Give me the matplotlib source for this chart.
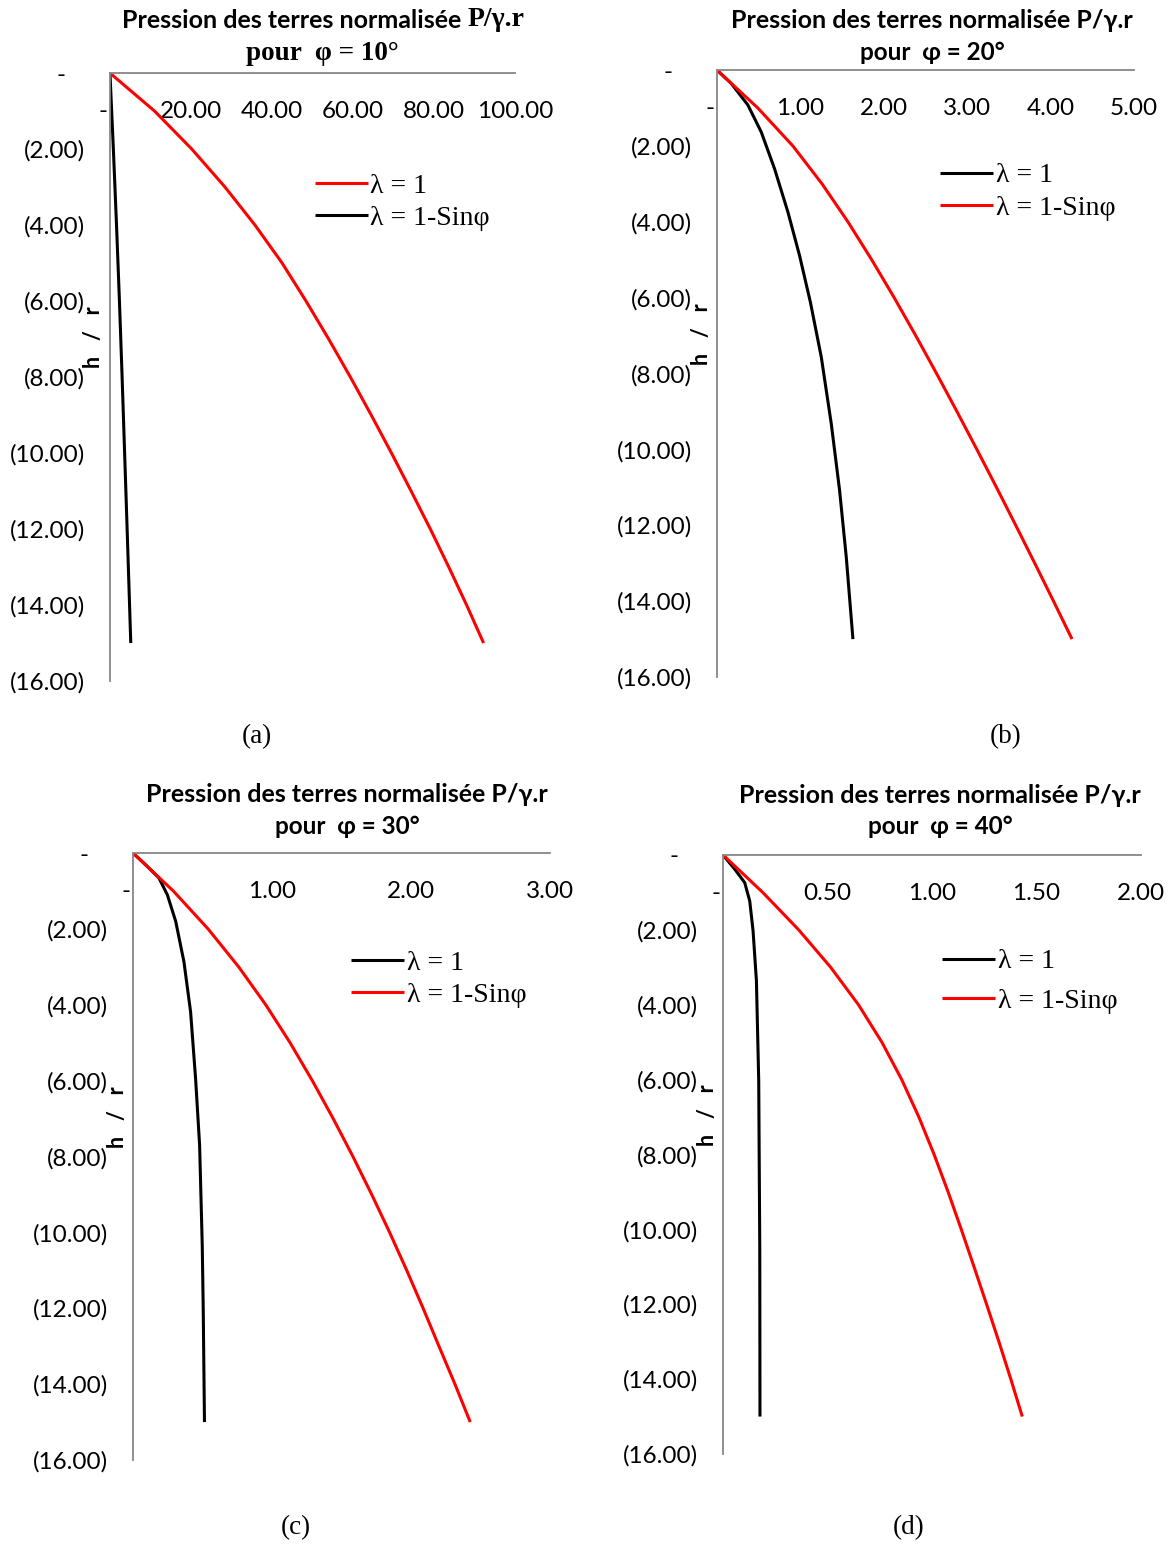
import matplotlib.pyplot as plt
from matplotlib.text import Annotation
from matplotlib.ticker import FixedLocator, FuncFormatter

# profondeur normalisee h/r (negative vers le bas) et pression P/(gamma.r)
h_unit = [0, -1, -2, -3, -4, -5, -6, -7, -8, -9, -10, -11, -12, -13, -14, -15]

# (a) phi = 10 deg
red_a = [0, 11.0, 20.2, 28.4, 35.8, 42.5, 48.4, 54.0, 59.35, 64.5, 69.5,
         74.35, 79.1, 83.65, 88.05, 92.25]
h_black_a = [0, -2, -4, -6, -8, -10, -12, -14, -15]
black_a = [0, 0.84, 1.62, 2.34, 3.0, 3.62, 4.24, 4.84, 5.14]

# (b) phi = 20 deg
h_black_b = [0, -0.35, -0.92, -1.63, -2.60, -3.74, -4.89, -6.12, -7.56, -9.32,
             -11.08, -12.84, -15]
black_b = [0, 0.17, 0.37, 0.53, 0.69, 0.85, 0.99, 1.12, 1.25, 1.37,
           1.47, 1.55, 1.63]
red_b = [0, 0.49, 0.91, 1.26, 1.57, 1.855, 2.125, 2.383, 2.633, 2.877, 3.116,
         3.351, 3.582, 3.81, 4.035, 4.257]

# (c) phi = 30 deg
h_black_c = [0, -0.31, -0.66, -1.10, -1.80, -2.86, -4.18, -5.94, -7.70, -10.34,
             -12, -14, -15]
black_c = [0, 0.091, 0.187, 0.247, 0.307, 0.366, 0.414, 0.45, 0.479, 0.498,
           0.505, 0.511, 0.514]
red_c = [0, 0.29, 0.54, 0.76, 0.955, 1.13, 1.29, 1.44, 1.582, 1.717, 1.846,
         1.969, 2.087, 2.201, 2.316, 2.426]

# (d) phi = 40 deg
h_black_d = [0, -0.38, -0.74, -1.23, -2.03, -3.36, -6.03, -10.49, -15]
black_d = [0, 0.056, 0.104, 0.128, 0.144, 0.16, 0.171, 0.176, 0.177]
red_d = [0, 0.19, 0.362, 0.515, 0.648, 0.76, 0.855, 0.937, 1.01, 1.077, 1.14,
         1.201, 1.261, 1.32, 1.377, 1.432]

y_ticks = [0, -2, -4, -6, -8, -10, -12, -14, -16]
xticks_a = [0, 20, 40, 60, 80, 100]
xticks_b = [0, 1, 2, 3, 4, 5]
xticks_c = [0, 1, 2, 3]
xticks_d = [0, 0.5, 1.0, 1.5, 2.0]

SANS = ['Lato', 'DejaVu Sans']
SERIF = ['Liberation Serif', 'DejaVu Serif']
GREY = '#868686'


def fmt_x(v, pos):
    if abs(v) < 1e-9:
        return '-  '
    return '{:.2f}'.format(v)


def fmt_y(v, pos):
    if abs(v) < 1e-9:
        return '-   '
    return '({:.2f})'.format(abs(v))


fig = plt.figure(figsize=(11.71, 15.44), dpi=100)


def panel(rect, xmax, xticks, hb, black, hr, red, red_first, leg_pos, lspace):
    ax = fig.add_axes(rect)
    ax.set_xlim(0, xmax)
    ax.set_ylim(-16, 0)
    for s in ['bottom', 'right']:
        ax.spines[s].set_visible(False)
    for s in ['top', 'left']:
        ax.spines[s].set_color(GREY)
        ax.spines[s].set_linewidth(1.3)

    lb, = ax.plot(black, hb, color='black', lw=2.2, solid_capstyle='butt',
                  solid_joinstyle='round')
    lr, = ax.plot(red, hr, color='#ff0000', lw=2.2, solid_capstyle='butt',
                  solid_joinstyle='round')

    ax.xaxis.set_major_locator(FixedLocator(xticks))
    ax.xaxis.set_major_formatter(FuncFormatter(fmt_x))
    ax.yaxis.set_major_locator(FixedLocator(y_ticks))
    ax.yaxis.set_major_formatter(FuncFormatter(fmt_y))
    ax.tick_params(axis='x', top=True, labeltop=True, bottom=False,
                   labelbottom=False, length=0, pad=-35, labelsize=17.5)
    ax.tick_params(axis='y', length=0, pad=18, labelsize=17.5)
    for t in ax.get_xticklabels() + ax.get_yticklabels():
        t.set_family(SANS)

    if red_first:
        handles = [lr, lb]
    else:
        handles = [lb, lr]
    ax.legend(handles, ['λ = 1', 'λ = 1-Sinφ'], loc='upper left',
              bbox_to_anchor=leg_pos, frameon=False, borderpad=0,
              borderaxespad=0, handlelength=1.9, handletextpad=0.1,
              labelspacing=lspace, prop={'family': SERIF, 'size': 20})

    ax.annotate('h   /   r', xy=(0, 0.565), xycoords='axes fraction',
                xytext=(-11.5, 0), textcoords='offset points', rotation=90,
                ha='center', va='center', fontsize=15.5, fontweight='bold',
                family=SANS)
    return ax


panel([0.0939, 0.5589, 0.3459, 0.3938], 100, xticks_a, h_black_a, black_a,
      h_unit, red_a, True, (0.506, 0.835), 0.25)
panel([0.6123, 0.5615, 0.3561, 0.3931], 5, xticks_b, h_black_b, black_b,
      h_unit, red_b, False, (0.535, 0.847), 0.25)
panel([0.1136, 0.0544, 0.3561, 0.3931], 3, xticks_c, h_black_c, black_c,
      h_unit, red_c, False, (0.523, 0.84), 0.25)
panel([0.6174, 0.0583, 0.357, 0.388], 2, xticks_d, h_black_d, black_d,
      h_unit, red_d, False, (0.524, 0.843), 0.5)

W, H = 1171.0, 1544.0

# titre (a): partie sans + partie serif
t1 = fig.text(122 / W, 1 - 20 / H, 'Pression des terres normalisée ',
              ha='left', va='center', fontsize=18, fontweight='bold', family=SANS)
fig.add_artist(Annotation('P/γ.r', xy=(1, 0.5), xycoords=t1, va='center',
                          ha='left', fontsize=20, fontweight='bold',
                          family=SERIF))
fig.text(322 / W, 1 - 53 / H, 'pour  φ = 10°', ha='center', va='center',
         fontsize=19.5, fontweight='bold', family=SERIF)

titles = [(932, 20, 53, '20'), (347, 794, 827, '30'), (940, 795, 827, '40')]
for cx, y1, y2, phi in titles:
    fig.text(cx / W, 1 - y1 / H, 'Pression des terres normalisée P/γ.r',
             ha='center', va='center', fontsize=18, fontweight='bold', family=SANS)
    fig.text(cx / W, 1 - y2 / H, 'pour  φ = ' + phi + '°', ha='center',
             va='center', fontsize=17.5, fontweight='bold', family=SANS)

captions = [(257, 737, '(a)'), (1006, 737, '(b)'), (296, 1528, '(c)'), (909, 1528, '(d)')]
for cx, cy, lab in captions:
    fig.text(cx / W, 1 - cy / H, lab, ha='center', va='center', fontsize=19.5,
             family=SERIF)

fig.savefig('out.png', dpi=100)
